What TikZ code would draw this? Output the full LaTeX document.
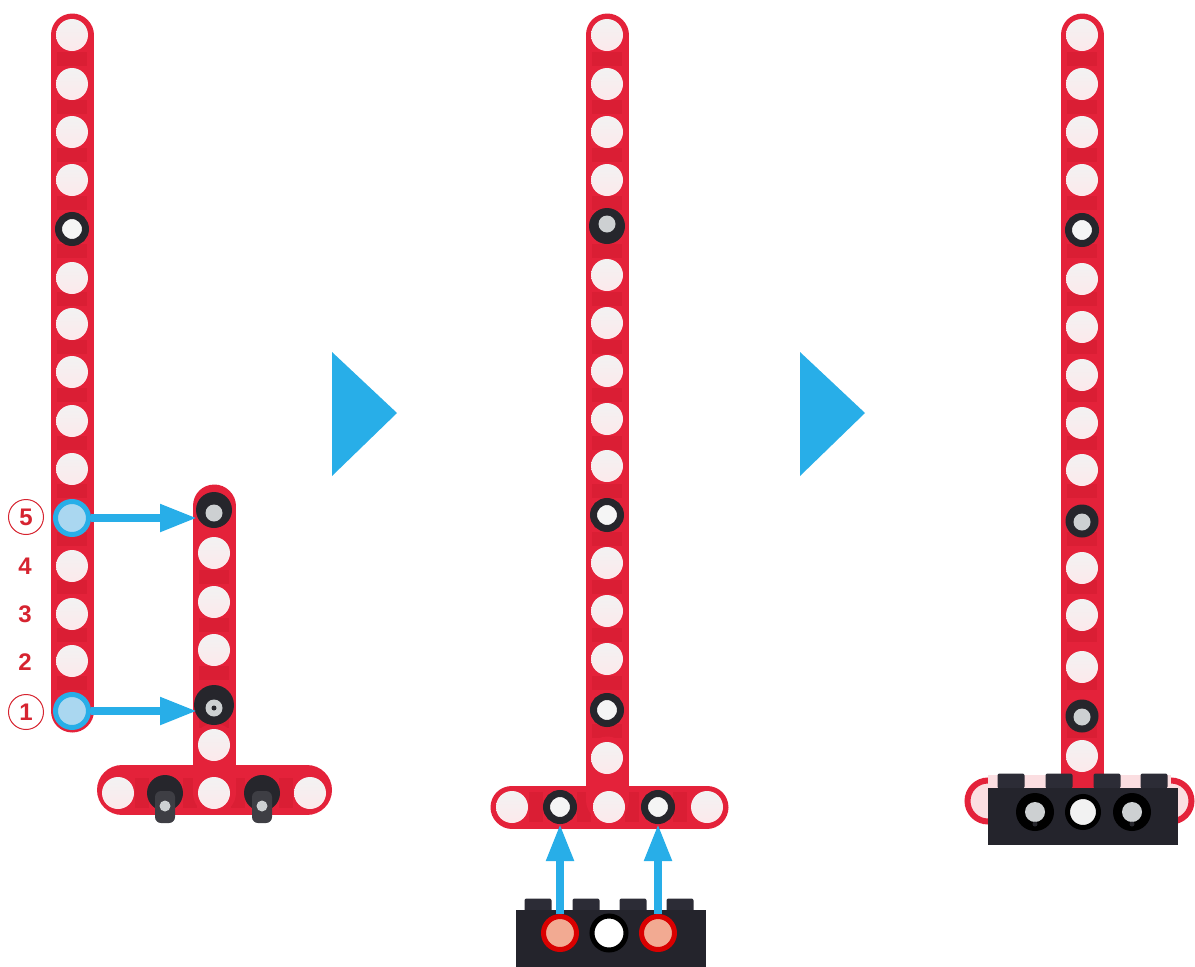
\documentclass[tikz,border=0pt]{standalone}
\usepackage{fontspec}
\setmainfont{Liberation Sans}
\usetikzlibrary{positioning, arrows.meta, backgrounds}
\definecolor{beamcol}{RGB}{228, 34, 58}
\definecolor{notchcol}{RGB}{218, 30, 52}
\definecolor{pegcol}{RGB}{38, 38, 44}
\definecolor{tailcol}{RGB}{62, 62, 68}
\definecolor{studcol}{RGB}{44, 44, 54}
\definecolor{brickcol}{RGB}{36, 36, 44}
\definecolor{headcol}{RGB}{205, 208, 210}
\definecolor{bluecol}{RGB}{40, 174, 232}
\definecolor{paleblue}{RGB}{170, 215, 240}
\definecolor{numcol}{RGB}{214, 36, 48}
\definecolor{salmon}{RGB}{242, 170, 146}

\begin{document}
\begin{tikzpicture}[x=1pt, y=-1pt,
      beam/.style={line width=43pt, line cap=round, color=beamcol},
      notch/.style={line width=30pt, color=notchcol, dash pattern=on 14pt off 34pt, dash phase=31pt},
      hole/.style={circle, inner sep=0pt, minimum size=32pt, top color=gray!10, middle color=gray!7, bottom color=beamcol!10},
      ring/.style={circle, inner sep=0pt, minimum size=27pt, draw=pegcol, line width=7pt, fill=gray!8},
      peg/.style={circle, inner sep=0pt, minimum size=36pt, fill=pegcol},
      peghead/.style={circle, inner sep=0pt, minimum size=17pt, fill=headcol},
      pegdot/.style={circle, inner sep=0pt, minimum size=5pt, fill=pegcol},
      pegtail/.style={rectangle, inner sep=0pt, minimum width=20pt, minimum height=32pt, rounded corners=6pt, fill=tailcol},
      mark1/.style={circle, inner sep=0pt, minimum size=33pt, draw=bluecol, line width=5pt, fill=paleblue},
      mark2/.style={circle, inner sep=0pt, minimum size=33pt, draw=red!85!black, line width=5pt, fill=salmon},
      brick/.style={rectangle, inner sep=0pt, minimum width=190pt, fill=brickcol},
      stud/.style={rectangle, inner sep=0pt, minimum width=27pt, minimum height=15pt, rounded corners=2pt, fill=studcol},
      brickhole/.style={circle, inner sep=0pt, minimum size=34pt, draw=black, line width=5pt, fill=white},
      endloop/.style={circle, inner sep=0pt, minimum size=41pt, draw=beamcol, line width=6pt, fill=beamcol!15},
      num/.style={inner sep=0pt, text=numcol, font=\fontsize{24}{24}\selectfont\bfseries},
      numc/.style={num, circle, minimum size=35pt, draw=numcol, line width=1pt},
      link/.style={bluecol, line width=8pt, -{Triangle[length=37pt, width=26pt]}},
      next/.style={fill=bluecol}]

      \useasboundingbox (0,0) rectangle (1195,967);

      % Poutre 1 (gauche)
      \node[hole] (a1) at (72, 35) {};
      \node[hole] (a2) at (72, 84) {};
      \node[hole] (a3) at (72, 132) {};
      \node[hole] (a4) at (72, 180) {};
      \node[ring] (a5) at (72, 229) {};
      \node[hole] (a6) at (72, 278) {};
      \node[hole] (a7) at (72, 324) {};
      \node[hole] (a8) at (72, 372) {};
      \node[hole] (a9) at (72, 421) {};
      \node[hole] (a10) at (72, 469) {};
      \node[mark1] (a11) at (72, 518) {};
      \node[hole] (a12) at (72, 566) {};
      \node[hole] (a13) at (72, 614) {};
      \node[hole] (a14) at (72, 661) {};
      \node[mark1] (a15) at (72, 711) {};

      % Numeros
      \node[numc] (n5) at (26, 517) {5};
      \node[num] (n4) at (25, 566) {4};
      \node[num] (n3) at (25, 614) {3};
      \node[num] (n2) at (25, 662) {2};
      \node[numc] (n1) at (26, 712) {1};

      % Poutre 2 en T
      \node[peg] (b1) at (214, 510) {};
      \node[peghead] (b1h) at (214, 513) {};
      \node[hole] (b2) at (214, 553) {};
      \node[hole] (b3) at (214, 602) {};
      \node[hole] (b4) at (214, 650) {};
      \node[peg, minimum size=40pt] (b5) at (214, 705) {};
      \node[peghead] (b5h) at (214, 708) {};
      \node[pegdot] (b5d) at (214, 708) {};
      \node[hole] (b6) at (214, 745) {};
      \node[hole] (c1) at (118, 793) {};
      \node[peg] (c2) at (165, 793) {};
      \node[pegtail] (c2t) at (165, 807) {};
      \node[peghead, minimum size=11pt] (c2h) at (165, 806) {};
      \node[hole] (c3) at (214, 793) {};
      \node[peg] (c4) at (262, 793) {};
      \node[pegtail] (c4t) at (262, 807) {};
      \node[peghead, minimum size=11pt] (c4h) at (262, 806) {};
      \node[hole] (c5) at (310, 793) {};
      \coordinate (t5) at (197, 518);
      \coordinate (t1) at (197, 711);

      % Poutre 3 (milieu)
      \node[hole] (d1) at (607, 35) {};
      \node[hole] (d2) at (607, 84) {};
      \node[hole] (d3) at (607, 132) {};
      \node[hole] (d4) at (607, 180) {};
      \node[peg] (d5) at (607, 226) {};
      \node[peghead] (d5h) at (607, 224) {};
      \node[hole] (d6) at (607, 275) {};
      \node[hole] (d7) at (607, 323) {};
      \node[hole] (d8) at (607, 371) {};
      \node[hole] (d9) at (607, 419) {};
      \node[hole] (d10) at (607, 466) {};
      \node[ring] (d11) at (607, 515) {};
      \node[hole] (d12) at (607, 563) {};
      \node[hole] (d13) at (607, 611) {};
      \node[hole] (d14) at (607, 659) {};
      \node[ring] (d15) at (607, 710) {};
      \node[hole] (d16) at (607, 758) {};
      \node[hole] (e1) at (512, 807) {};
      \node[ring] (e2) at (560, 807) {};
      \node[hole] (e3) at (609, 807) {};
      \node[ring] (e4) at (658, 807) {};
      \node[hole] (e5) at (707, 807) {};

      % Brique du bas
      \node[stud] (s1) at (538, 906) {};
      \node[stud] (s2) at (586, 906) {};
      \node[stud] (s3) at (633, 906) {};
      \node[stud] (s4) at (680, 906) {};
      \node[brick, minimum height=57pt] (k1) at (610.5, 938.5) {};
      \node[mark2] (k1a) at (560, 933) {};
      \node[brickhole] (k1b) at (609, 933) {};
      \node[mark2] (k1c) at (658, 933) {};

      % Poutre 4 (droite)
      \node[hole] (f1) at (1082, 35) {};
      \node[hole] (f2) at (1082, 84) {};
      \node[hole] (f3) at (1082, 132) {};
      \node[hole] (f4) at (1082, 180) {};
      \node[ring] (f5) at (1082, 230) {};
      \node[hole] (f6) at (1082, 279) {};
      \node[hole] (f7) at (1082, 327) {};
      \node[hole] (f8) at (1082, 375) {};
      \node[hole] (f9) at (1082, 423) {};
      \node[hole] (f10) at (1082, 470) {};
      \node[peg, minimum size=33pt] (f11) at (1082, 521) {};
      \node[peghead] (f11h) at (1082, 522) {};
      \node[hole] (f12) at (1082, 568) {};
      \node[hole] (f13) at (1082, 615) {};
      \node[hole] (f14) at (1082, 667) {};
      \node[peg, minimum size=33pt] (f15) at (1082, 716) {};
      \node[peghead] (f15h) at (1082, 717) {};
      \node[hole] (f16) at (1082, 756) {};

      % Brique montee
      \node[stud] (u1) at (1011, 781) {};
      \node[stud] (u2) at (1059, 781) {};
      \node[stud] (u3) at (1107, 781) {};
      \node[stud] (u4) at (1154, 781) {};
      \node[brick, minimum height=57pt] (k2) at (1083, 816.5) {};
      \node[peg, minimum size=38pt, fill=black] (g1) at (1035, 812) {};
      \node[peghead, minimum size=20pt] (g1h) at (1035, 812) {};
      \node[pegdot] (g1d) at (1035, 824) {};
      \node[brickhole, minimum size=31pt, fill=gray!10] (g2) at (1083, 812) {};
      \node[peg, minimum size=38pt, fill=black] (g3) at (1132, 812) {};
      \node[peghead, minimum size=20pt] (g3h) at (1132, 812) {};
      \node[pegdot] (g3d) at (1132, 824) {};

      % Corps des poutres
      \begin{scope}[on background layer]
        \draw[beam] (a1.center) -- (a15.center);
        \draw[notch] (a1.center) -- (a15.center);
        \draw[beam] (214, 506) -- (b6.center);
        \draw[notch] (b2.center) -- (b6.center);
        \draw[beam, line width=50pt] (122, 790) -- (307, 790);
        \draw[notch] (c1.center) -- (c5.center);
        \draw[beam] (214, 745) -- (c3.center);
        \draw[beam] (d1.center) -- (d16.center);
        \draw[notch] (d1.center) -- (d16.center);
        \draw[beam] (e1.center) -- (e5.center);
        \draw[notch] (e1.center) -- (e5.center);
        \draw[beam] (d16.center) -- (607, 800);
        \node[endloop] (l1) at (988, 801) {};
        \node[endloop] (l2) at (1171, 801) {};
        \fill[beamcol!15] (988, 775) rectangle (1171, 790);
        \draw[beam] (f1.center) -- (1082, 790);
        \draw[notch] (f1.center) -- (f16.center);
      \end{scope}

      % Fleches
      \draw[link] (a11.east) -- (t5);
      \draw[link] (a15.east) -- (t1);
      \draw[link] (k1a.north) -- (e2.south);
      \draw[link] (k1c.north) -- (e4.south);

      % Triangles entre les etapes
      \path[next] (332, 352) -- (397, 413) -- (332, 476) -- cycle;
      \path[next] (800, 352) -- (865, 413) -- (800, 476) -- cycle;
    \end{tikzpicture}
\end{document}
